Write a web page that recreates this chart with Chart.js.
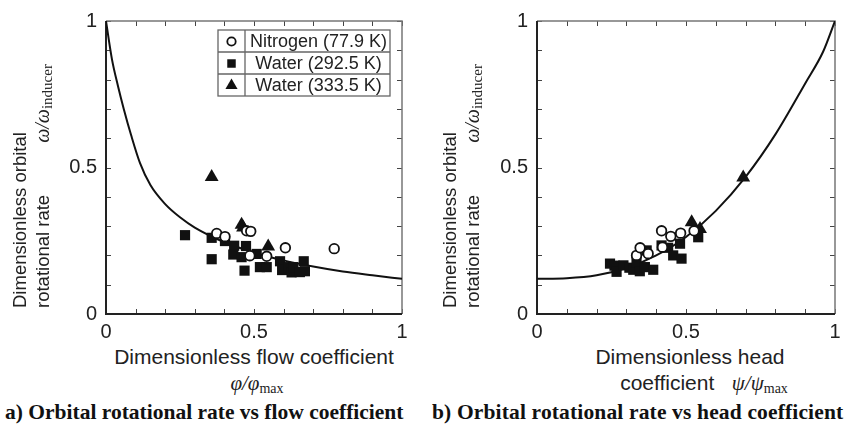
<!DOCTYPE html>
<html>
<head>
<meta charset="utf-8">
<script src="https://cdn.jsdelivr.net/npm/chart.js@4/dist/chart.umd.min.js"></script>
<style>
  body { margin: 0; background: #fff; }
  #wrap { position: relative; width: 849px; height: 433px; overflow: hidden; }
  canvas { position: absolute; top: 0; }
  .t { position: absolute; font-family: "Liberation Sans", Arial, sans-serif; font-size: 21px; color: #222; white-space: nowrap; line-height: 24px; }
  .m { font-family: "Liberation Serif", "Times New Roman", serif; font-style: italic; }
  .m sub { font-style: normal; font-size: 14px; vertical-align: -3px; }
  .ytitle { transform: rotate(-90deg); transform-origin: left top; font-size: 18.5px; line-height: 23px; }
  .ytitle .m { margin-left: 52px; font-size: 20px; }
  .ytitle .m sub { font-size: 15px; }
  .cap { position: absolute; font-family: "Liberation Serif", "Times New Roman", serif; font-weight: bold; color: #111; white-space: nowrap; }
</style>
</head>
<body>
<div id="wrap">
  <canvas id="flowChart" width="420" height="345" style="left:0"></canvas>
  <canvas id="headChart" width="419" height="345" style="left:430px"></canvas>

  <div class="t ytitle" style="left:8px;top:308px">Dimensionless orbital<br>rotational rate<span class="m">ω/ω<sub>inducer</sub></span></div>
  <div class="t ytitle" style="left:438px;top:308px">Dimensionless orbital<br>rotational rate<span class="m">ω/ω<sub>inducer</sub></span></div>

  <div class="t" style="left:54px;width:400px;text-align:center;top:345px">Dimensionless flow coefficient</div>
  <div class="t" style="left:57px;width:400px;text-align:center;top:371px"><span class="m">φ/φ<sub>max</sub></span></div>
  <div class="t" style="left:490px;width:400px;text-align:center;top:345px">Dimensionless head</div>
  <div class="t" style="left:504px;width:400px;text-align:center;top:371px">coefficient&nbsp;&nbsp;&nbsp;<span class="m">ψ/ψ<sub>max</sub></span></div>

  <div class="cap" style="left:5px;top:400px;font-size:21.5px">a) Orbital rotational rate vs flow coefficient</div>
  <div class="cap" style="left:432px;top:400px;font-size:21.5px;letter-spacing:0.15px">b) Orbital rotational rate vs head coefficient</div>
</div>

<script>
// tick labels shown on both axes
const tickLabels = ['0', '0.5', '1']

// a) flow coefficient panel
const flowCurveX = [0, 0.02, 0.04, 0.06, 0.085, 0.115, 0.15, 0.2, 0.25, 0.3, 0.4, 0.5, 0.6, 0.7, 0.8, 0.9, 1.0]
const flowCurveY = [1.0, 0.87, 0.78, 0.70, 0.61, 0.515, 0.44, 0.375, 0.33, 0.295, 0.245, 0.21, 0.183, 0.162, 0.145, 0.132, 0.12]

const flowNitrogenX = [0.374, 0.402, 0.475, 0.489, 0.486, 0.543, 0.606, 0.771]
const flowNitrogenY = [0.275, 0.264, 0.284, 0.282, 0.199, 0.197, 0.226, 0.223]

const flowWater292X = [0.267, 0.357, 0.357, 0.402, 0.433, 0.43, 0.473, 0.458, 0.468, 0.509, 0.52, 0.543, 0.588, 0.595, 0.616, 0.627, 0.633, 0.655, 0.668, 0.672]
const flowWater292Y = [0.269, 0.26, 0.187, 0.249, 0.233, 0.203, 0.232, 0.194, 0.148, 0.205, 0.16, 0.16, 0.18, 0.15, 0.16, 0.142, 0.16, 0.143, 0.18, 0.146]

const flowWater333X = [0.357, 0.458, 0.463, 0.548]
const flowWater333Y = [0.468, 0.305, 0.295, 0.23]

// b) head coefficient panel
const headCurveX = [0, 0.1, 0.2, 0.3, 0.4, 0.5, 0.6, 0.7, 0.8, 0.9, 0.96, 1.0]
const headCurveY = [0.12, 0.122, 0.132, 0.157, 0.2, 0.263, 0.352, 0.468, 0.613, 0.787, 0.895, 1.0]

const headNitrogenX = [0.334, 0.346, 0.373, 0.418, 0.421, 0.449, 0.482, 0.527]
const headNitrogenY = [0.200, 0.226, 0.206, 0.284, 0.228, 0.265, 0.276, 0.284]

const headWater292X = [0.245, 0.26, 0.267, 0.29, 0.31, 0.323, 0.334, 0.345, 0.362, 0.368, 0.39, 0.418, 0.44, 0.457, 0.48, 0.485, 0.541]
const headWater292Y = [0.172, 0.165, 0.144, 0.166, 0.158, 0.151, 0.177, 0.146, 0.16, 0.217, 0.151, 0.234, 0.226, 0.2, 0.24, 0.189, 0.262]

const headWater333X = [0.519, 0.547, 0.692]
const headWater333Y = [0.313, 0.29, 0.466]

const legendNames = ['Nitrogen (77.9 K)', 'Water (292.5 K)', 'Water (333.5 K)']

const pts = (xs, ys) => xs.map((x, i) => ({ x: x, y: ys[i] }))

const markers = [
    { pointStyle: 'circle', radius: 4.8, legendRadius: 4.2, backgroundColor: '#fff', borderColor: '#111', borderWidth: 1.8 },
    { pointStyle: 'rect', radius: 7.2, legendRadius: 6, backgroundColor: '#111', borderColor: '#111', borderWidth: 0 },
    { pointStyle: 'triangle', radius: 8, legendRadius: 7, backgroundColor: '#111', borderColor: '#111', borderWidth: 0 }
]

function pointSet(label, data, m) {
    return {
        label: label,
        data: data,
        showLine: false,
        pointStyle: m.pointStyle,
        pointRadius: m.radius,
        pointBackgroundColor: m.backgroundColor,
        pointBorderColor: m.borderColor,
        pointBorderWidth: m.borderWidth,
        order: 1
    }
}

// frame with inward ticks on all four sides
const framePlugin = {
    id: 'frame',
    beforeDatasetsDraw(chart) {
        const { ctx, chartArea: a, scales } = chart
        ctx.save()
        ctx.strokeStyle = '#444'
        ctx.lineWidth = 1
        scales.x.ticks.forEach(t => {
            const px = Math.round(scales.x.getPixelForValue(t.value)) + 0.5
            ctx.beginPath()
            ctx.moveTo(px, a.bottom); ctx.lineTo(px, a.bottom - 5)
            ctx.moveTo(px, a.top); ctx.lineTo(px, a.top + 5)
            ctx.stroke()
        })
        scales.y.ticks.forEach(t => {
            const py = Math.round(scales.y.getPixelForValue(t.value)) + 0.5
            ctx.beginPath()
            ctx.moveTo(a.left, py); ctx.lineTo(a.left + 5, py)
            ctx.moveTo(a.right, py); ctx.lineTo(a.right - 5, py)
            ctx.stroke()
        })
        ctx.strokeStyle = '#777'
        ctx.lineWidth = 1.5
        ctx.beginPath()
        ctx.moveTo(a.left, a.top); ctx.lineTo(a.right, a.top); ctx.lineTo(a.right, a.bottom)
        ctx.stroke()
        ctx.strokeStyle = '#222'
        ctx.lineWidth = 2
        ctx.beginPath()
        ctx.moveTo(a.left, a.top); ctx.lineTo(a.left, a.bottom); ctx.lineTo(a.right, a.bottom)
        ctx.stroke()
        ctx.restore()
    }
}

// boxed legend table (panel a only)
const tableLegend = {
    id: 'tableLegend',
    afterDraw(chart, args, opts) {
        if (!opts.show) return
        const { ctx, chartArea: a } = chart
        const left = a.left + 112, top = a.top + 9, w = 172, rowH = 22, symW = 27
        ctx.save()
        ctx.strokeStyle = '#666'
        ctx.lineWidth = 1.3
        ctx.strokeRect(left, top, w, rowH * 3)
        ctx.beginPath()
        ctx.moveTo(left + symW, top); ctx.lineTo(left + symW, top + rowH * 3)
        ctx.moveTo(left, top + rowH); ctx.lineTo(left + w, top + rowH)
        ctx.moveTo(left, top + rowH * 2); ctx.lineTo(left + w, top + rowH * 2)
        ctx.stroke()
        ctx.font = '18px "Liberation Sans", Arial, sans-serif'
        ctx.textAlign = 'center'
        ctx.textBaseline = 'middle'
        legendNames.forEach((name, i) => {
            const cy = top + rowH * i + rowH / 2 + 0.5
            const m = markers[i]
            ctx.fillStyle = m.backgroundColor
            ctx.strokeStyle = m.borderColor
            ctx.lineWidth = m.borderWidth
            Chart.helpers.drawPoint(ctx, { pointStyle: m.pointStyle, radius: m.legendRadius, borderWidth: m.borderWidth }, left + symW / 2, cy)
            ctx.fillStyle = '#222'
            ctx.fillText(name, left + symW + (w - symW) / 2 + 1, cy + 1)
        })
        ctx.restore()
    }
}

function axisOptions(axis, fitSize) {
    return {
        type: 'linear',
        min: 0,
        max: 1,
        grid: { display: false, drawTicks: false },
        border: { display: false },
        ticks: {
            stepSize: 0.1,
            autoSkip: false,
            maxRotation: 0,
            padding: axis === 'x' ? 6 : 9,
            color: '#222',
            font: { family: '"Liberation Sans", Arial, sans-serif', size: 20 },
            callback: v => {
                const s = String(Math.round(v * 10) / 10)
                return tickLabels.includes(s) ? s : ''
            }
        },
        afterFit: scale => {
            if (axis === 'x') scale.height = fitSize
            else scale.width = fitSize
        }
    }
}

function makePanel(canvasId, curve, nitrogen, water292, water333, padding, yWidth, xHeight, showLegend) {
    new Chart(document.getElementById(canvasId).getContext('2d'), {
        type: 'scatter',
        data: {
            datasets: [
                pointSet(legendNames[0], nitrogen, markers[0]),
                pointSet(legendNames[1], water292, markers[1]),
                pointSet(legendNames[2], water333, markers[2]),
                {
                    label: 'model',
                    data: curve,
                    showLine: true,
                    pointRadius: 0,
                    borderColor: '#111',
                    borderWidth: 2,
                    cubicInterpolationMode: 'monotone',
                    fill: false,
                    order: 2
                }
            ]
        },
        options: {
            responsive: false,
            animation: false,
            layout: { padding: padding },
            plugins: {
                legend: { display: false },
                tooltip: { enabled: false },
                tableLegend: { show: showLegend }
            },
            scales: {
                x: axisOptions('x', xHeight),
                y: axisOptions('y', yWidth)
            }
        },
        plugins: [framePlugin, tableLegend]
    })
}

makePanel('flowChart',
    pts(flowCurveX, flowCurveY),
    pts(flowNitrogenX, flowNitrogenY),
    pts(flowWater292X, flowWater292Y),
    pts(flowWater333X, flowWater333Y),
    { left: 0, top: 18, right: 18, bottom: 0 }, 106, 31, true)

makePanel('headChart',
    pts(headCurveX, headCurveY),
    pts(headNitrogenX, headNitrogenY),
    pts(headWater292X, headWater292Y),
    pts(headWater333X, headWater333Y),
    { left: 0, top: 19, right: 14, bottom: 0 }, 107, 31, false)
</script>
</body>
</html>
